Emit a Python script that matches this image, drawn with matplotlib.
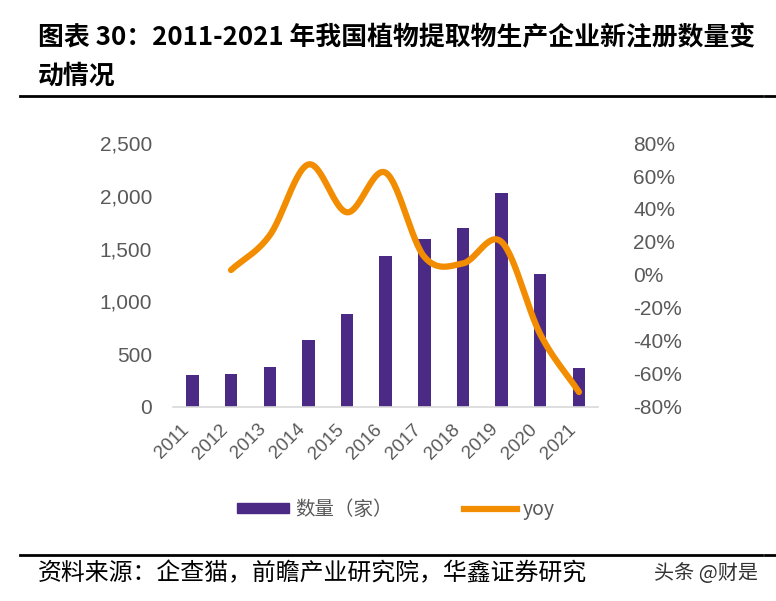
import numpy as np
import matplotlib
matplotlib.use("Agg")
import matplotlib.pyplot as plt
from matplotlib.lines import Line2D
from matplotlib.patches import Patch

plt.rcParams['font.family'] = ['Liberation Sans', 'Noto Sans CJK SC', 'DejaVu Sans']

# -------------------------------
# data
# -------------------------------
years = ['2011', '2012', '2013', '2014', '2015', '2016', '2017', '2018', '2019', '2020', '2021']
counts = [300, 310, 382, 637, 880, 1427, 1588, 1695, 2023, 1256, 369]
yoy = [3, 24, 67, 38, 62, 11, 7, 20, -36, -71]   # 2012-2021, %

left_ticks = [0, 500, 1000, 1500, 2000, 2500]
right_ticks = [-80, -60, -40, -20, 0, 20, 40, 60, 80]

bar_color = '#4B2A85'
line_color = '#F28C00'
tick_color = '#595959'
cjk = ['Noto Sans CJK SC', 'DejaVu Sans']


def smooth(xs, ys, n=30):
    # catmull-rom curve through the points (like excel smoothed line)
    p = np.column_stack([xs, ys]).astype(float)
    p = np.vstack([2 * p[0] - p[1], p, 2 * p[-1] - p[-2]])
    out = []
    for i in range(1, len(p) - 2):
        p0, p1, p2, p3 = p[i - 1], p[i], p[i + 1], p[i + 2]
        t = np.linspace(0, 1, n)[:, None]
        seg = 0.5 * ((2 * p1) + (-p0 + p2) * t + (2 * p0 - 5 * p1 + 4 * p2 - p3) * t**2
                     + (-p0 + 3 * p1 - 3 * p2 + p3) * t**3)
        out.append(seg)
    out = np.vstack(out)
    return out[:, 0], out[:, 1]


fig = plt.figure(figsize=(7.76, 6.01), dpi=100)
ax = fig.add_axes([0.223, 0.323, 0.548, 0.439])
ax2 = ax.twinx()

x = np.arange(len(years))
ax.bar(x, counts, width=0.32, color=bar_color, zorder=2)
ax.set_xlim(-0.5, 10.5)
ax.set_ylim(0, 2500)
ax.set_yticks(left_ticks)
ax.set_yticklabels([f'{v:,}' for v in left_ticks])
ax.set_xticks(x)
ax.set_xticklabels(years, rotation=45, ha='right')

sx, sy = smooth(x[1:], yoy)
ax2.plot(sx, sy, color=line_color, lw=4.5, solid_capstyle='round', zorder=3)
ax2.set_ylim(-80, 80)
ax2.set_yticks(right_ticks)
ax2.set_yticklabels([f'{v}%' for v in right_ticks])

for a in (ax, ax2):
    for s in a.spines.values():
        s.set_visible(False)
    a.tick_params(length=0, labelsize=15, colors=tick_color)
ax.tick_params(axis='x', labelsize=13.5, pad=10)
ax.tick_params(axis='y', pad=15)
ax2.tick_params(axis='y', pad=25)
ax.spines['bottom'].set_visible(True)
ax.spines['bottom'].set_color('#D9D9D9')
ax.spines['bottom'].set_linewidth(1.2)

# legend
handles = [Patch(color=bar_color), Line2D([0], [0], color=line_color, lw=4.5)]
leg = fig.legend(handles, ['数量（家）', 'yoy'], loc='center', bbox_to_anchor=(0.51, 0.152),
                 ncol=2, frameon=False, handlelength=2.7, handleheight=0.45,
                 columnspacing=3.7, handletextpad=0.3, prop={'family': cjk, 'size': 14})
for t in leg.get_texts():
    t.set_color(tick_color)

# title, rules, footer
fig.text(0.049, 0.937, '图表 30：2011-2021 年我国植物提取物生产企业新注册数量变',
         fontsize=18.6, fontweight='bold', family=cjk, va='center')
fig.text(0.049, 0.873, '动情况', fontsize=18.6, fontweight='bold', family=cjk, va='center')
fig.add_artist(Line2D([0.026, 0.982], [0.84, 0.84], color='black', lw=2))
fig.add_artist(Line2D([0.986, 1.0], [0.84, 0.84], color='black', lw=2))
fig.add_artist(Line2D([0.026, 0.982], [0.077, 0.077], color='black', lw=2))
fig.add_artist(Line2D([0.986, 1.0], [0.077, 0.077], color='black', lw=2))
fig.text(0.049, 0.046, '资料来源：企查猫，前瞻产业研究院，华鑫证券研究',
         fontsize=17.2, family=cjk, va='center')
fig.text(0.843, 0.046, '头条 @财是', fontsize=14.5, family=cjk, va='center', color='#333333')

plt.savefig('out.png', dpi=100)
